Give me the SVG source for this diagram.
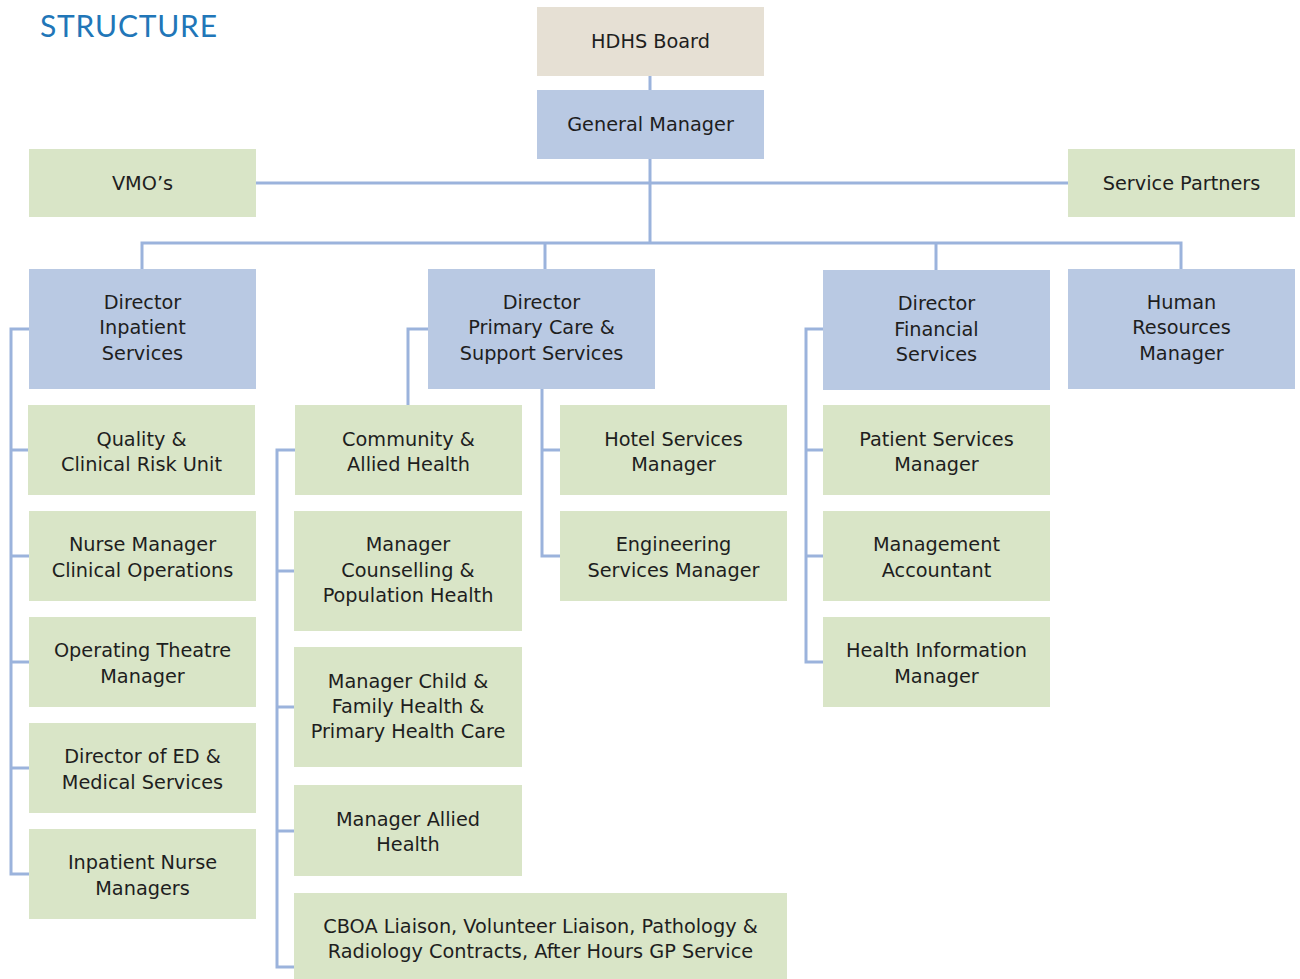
<svg xmlns="http://www.w3.org/2000/svg" width="1300" height="979" viewBox="0 0 1300 979">
<style>
.board{fill:#e6e0d4}
.blue{fill:#b9c9e3}
.green{fill:#d9e5c7}
text{font-family:"DejaVu Sans","Liberation Sans",sans-serif;font-size:19.3px;fill:#1e1e1e;text-anchor:middle}
.title{font-family:Lato,"Open Sans",sans-serif;font-size:30px;fill:#2176b8;text-anchor:start}
.con{fill:none;stroke:#9bb3dc;stroke-width:3}
</style>
<rect width="1300" height="979" fill="#fff"/>
<text class="title" x="40" y="37" textLength="177">STRUCTURE</text>
<g id="connectors" class="con">
<path d="M650 76V243"/>
<path d="M256 183H1068"/>
<path d="M142 269V243H1181V269"/>
<path d="M545 243V269"/>
<path d="M936 243V270"/>
<path d="M29 329H11V874H29"/>
<path d="M11 450H29M11 556H29M11 662H29M11 768H29"/>
<path d="M428 329H408V405"/>
<path d="M542 389V556H560M542 450H560"/>
<path d="M295 450H277V967H294"/>
<path d="M277 571H294M277 707H294M277 831H294"/>
<path d="M823 329H806V662H823"/>
<path d="M806 450H823M806 556H823"/>
</g>
<g id="hdhs-board"><rect class="board" x="537" y="7" width="227" height="69"/><text x="650.5" y="48">HDHS Board</text></g>
<g id="general-manager"><rect class="blue" x="537" y="90" width="227" height="69"/><text x="650.5" y="131">General Manager</text></g>
<g id="vmos"><rect class="green" x="29" y="149" width="227" height="68"/><text x="142.5" y="190">VMO’s</text></g>
<g id="service-partners"><rect class="green" x="1068" y="149" width="227" height="68"/><text x="1181.5" y="190">Service Partners</text></g>
<g id="dir-inpatient"><rect class="blue" x="29" y="269" width="227" height="120"/><text x="142.5" y="309">Director</text><text x="142.5" y="334">Inpatient</text><text x="142.5" y="360">Services</text></g>
<g id="dir-primary"><rect class="blue" x="428" y="269" width="227" height="120"/><text x="541.5" y="309">Director</text><text x="541.5" y="334">Primary Care &amp;</text><text x="541.5" y="360">Support Services</text></g>
<g id="dir-financial"><rect class="blue" x="823" y="270" width="227" height="120"/><text x="936.5" y="310">Director</text><text x="936.5" y="336">Financial</text><text x="936.5" y="361">Services</text></g>
<g id="hr-manager"><rect class="blue" x="1068" y="269" width="227" height="120"/><text x="1181.5" y="309">Human</text><text x="1181.5" y="334">Resources</text><text x="1181.5" y="360">Manager</text></g>
<g id="quality"><rect class="green" x="28" y="405" width="227" height="90"/><text x="141.5" y="446">Quality &amp;</text><text x="141.5" y="471">Clinical Risk Unit</text></g>
<g id="nurse-manager"><rect class="green" x="29" y="511" width="227" height="90"/><text x="142.5" y="551">Nurse Manager</text><text x="142.5" y="577">Clinical Operations</text></g>
<g id="theatre"><rect class="green" x="29" y="617" width="227" height="90"/><text x="142.5" y="657">Operating Theatre</text><text x="142.5" y="683">Manager</text></g>
<g id="dir-ed"><rect class="green" x="29" y="723" width="227" height="90"/><text x="142.5" y="763">Director of ED &amp;</text><text x="142.5" y="789">Medical Services</text></g>
<g id="inpatient-nurse"><rect class="green" x="29" y="829" width="227" height="90"/><text x="142.5" y="869">Inpatient Nurse</text><text x="142.5" y="895">Managers</text></g>
<g id="community"><rect class="green" x="295" y="405" width="227" height="90"/><text x="408.5" y="446">Community &amp;</text><text x="408.5" y="471">Allied Health</text></g>
<g id="counselling"><rect class="green" x="294" y="511" width="228" height="120"/><text x="408" y="551">Manager</text><text x="408" y="577">Counselling &amp;</text><text x="408" y="602">Population Health</text></g>
<g id="child-family"><rect class="green" x="294" y="647" width="228" height="120"/><text x="408" y="688">Manager Child &amp;</text><text x="408" y="713">Family Health &amp;</text><text x="408" y="738">Primary Health Care</text></g>
<g id="allied-health"><rect class="green" x="294" y="785" width="228" height="91"/><text x="408" y="826">Manager Allied</text><text x="408" y="851">Health</text></g>
<g id="cboa"><rect class="green" x="294" y="893" width="493" height="86"/><text x="540.5" y="933">CBOA Liaison, Volunteer Liaison, Pathology &amp;</text><text x="540.5" y="958">Radiology Contracts, After Hours GP Service</text></g>
<g id="hotel"><rect class="green" x="560" y="405" width="227" height="90"/><text x="673.5" y="446">Hotel Services</text><text x="673.5" y="471">Manager</text></g>
<g id="engineering"><rect class="green" x="560" y="511" width="227" height="90"/><text x="673.5" y="551">Engineering</text><text x="673.5" y="577">Services Manager</text></g>
<g id="patient-services"><rect class="green" x="823" y="405" width="227" height="90"/><text x="936.5" y="446">Patient Services</text><text x="936.5" y="471">Manager</text></g>
<g id="mgmt-accountant"><rect class="green" x="823" y="511" width="227" height="90"/><text x="936.5" y="551">Management</text><text x="936.5" y="577">Accountant</text></g>
<g id="health-info"><rect class="green" x="823" y="617" width="227" height="90"/><text x="936.5" y="657">Health Information</text><text x="936.5" y="683">Manager</text></g>
</svg>
